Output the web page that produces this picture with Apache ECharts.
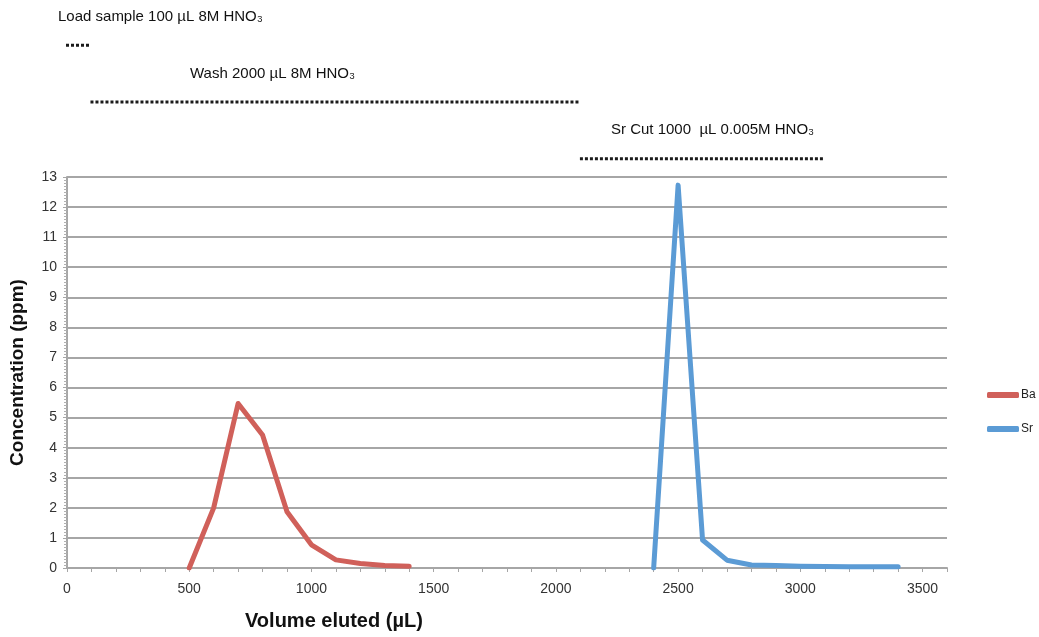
<!DOCTYPE html>
<html>
<head>
<meta charset="utf-8">
<script src="https://cdn.jsdelivr.net/npm/echarts@6/dist/echarts.min.js"></script>
<style>html,body{margin:0;padding:0;background:#fff;}#c{width:1039px;height:637px;}</style>
</head>
<body>
<div id="c"></div>
<script>
// Data
const volumes = [500, 600, 700, 800, 900, 1000, 1100, 1200, 1300, 1400];
const baValues = [0, 2.0, 5.47, 4.42, 1.87, 0.77, 0.27, 0.15, 0.08, 0.06];
const srVolumes = [2400, 2500, 2600, 2700, 2800, 2900, 3000, 3100, 3200, 3300, 3400];
const srValues = [0, 12.73, 0.93, 0.26, 0.1, 0.08, 0.06, 0.05, 0.04, 0.04, 0.04];
const stepNames = ['Load sample 100 µL 8M HNO₃', 'Wash 2000 µL 8M HNO₃', 'Sr Cut 1000  µL 0.005M HNO₃'];
const stepStart = [0, 100, 2100];
const stepEnd = [100, 2100, 3100];
const yTicks = [0, 13, 1];
const xTicks = [0, 3600, 500];

const FONT = '"Liberation Sans", Arial, sans-serif';
const chart = echarts.init(document.getElementById('c'), null, {renderer: 'canvas'});

const stepSeries = stepNames.map((n, i) => ({
  type: 'line', xAxisIndex: 1, yAxisIndex: 1, symbol: 'none', silent: true,
  data: [[stepStart[i], i], [stepEnd[i], i]],
  lineStyle: {color: '#1a1a1a', width: 3, type: [3, 2]}
}));

chart.setOption({
  animation: false,
  backgroundColor: '#fff',
  textStyle: {fontFamily: FONT},
  grid: [
    {left: 66, right: 92, top: 177, bottom: 69},
    {left: 66, right: 92, top: 17, height: 170}
  ],
  legend: {
    orient: 'vertical', left: 982, top: 384, itemGap: 22,
    itemWidth: 32, itemHeight: 6, icon: 'roundRect',
    textStyle: {fontSize: 12, color: '#222', fontFamily: '"Liberation Sans Narrow", "Liberation Sans", sans-serif', padding: [0, 0, 0, -3]},
    data: ['Ba', 'Sr']
  },
  xAxis: [{
    type: 'value', gridIndex: 0, min: xTicks[0], max: xTicks[1], interval: xTicks[2],
    axisLine: {show: true, lineStyle: {color: '#a6a6a6', width: 2}},
    axisTick: {show: true, length: 4, lineStyle: {color: '#a6a6a6'}},
    minorTick: {show: true, splitNumber: 5, length: 4, lineStyle: {color: '#a6a6a6'}},
    splitLine: {show: false},
    axisLabel: {fontSize: 14, color: '#333', margin: 14, showMaxLabel: false, formatter: v => String(v)},
  }, {
    type: 'value', gridIndex: 1, min: xTicks[0], max: xTicks[1], show: false
  }],
  yAxis: [{
    type: 'value', gridIndex: 0, min: yTicks[0], max: yTicks[1], interval: yTicks[2],
    name: 'Concentration (ppm)', nameLocation: 'middle', nameGap: 40,
    nameTextStyle: {fontSize: 19, fontWeight: 'bold', color: '#111'},
    axisLine: {show: true, lineStyle: {color: '#a6a6a6', width: 2}},
    axisTick: {show: true, length: 4, lineStyle: {color: '#a6a6a6'}},
    minorTick: {show: true, splitNumber: 10, length: 3, lineStyle: {color: '#b0b0b0'}},
    splitLine: {show: true, lineStyle: {color: '#a6a6a6', width: 2}},
    axisLabel: {fontSize: 14, color: '#333', margin: 10}
  }, {
    type: 'category', gridIndex: 1, inverse: true, data: [0, 1, 2], show: false
  }],
  graphic: [
    {type: 'text', left: 58, top: 9, style: {text: stepNames[0], fontSize: 15, fill: '#111', fontFamily: FONT}},
    {type: 'text', left: 190, top: 66, style: {text: stepNames[1], fontSize: 15, fill: '#111', fontFamily: FONT}},
    {type: 'text', left: 611, top: 122, style: {text: stepNames[2], fontSize: 15, fill: '#111', fontFamily: FONT}},
    {type: 'text', left: 245, top: 611, style: {text: 'Volume eluted (µL)', fontSize: 20, fontWeight: 'bold', fill: '#111', fontFamily: FONT}}
  ],
  series: [
    {
      name: 'Ba', type: 'line', xAxisIndex: 0, yAxisIndex: 0, symbol: 'none',
      data: volumes.map((v, i) => [v, baValues[i]]),
      itemStyle: {color: '#d0605a'},
      lineStyle: {color: '#d0605a', width: 5, cap: 'round', join: 'round'}
    },
    {
      name: 'Sr', type: 'line', xAxisIndex: 0, yAxisIndex: 0, symbol: 'none',
      data: srVolumes.map((v, i) => [v, srValues[i]]),
      itemStyle: {color: '#5b9bd5'},
      lineStyle: {color: '#5b9bd5', width: 5, cap: 'round', join: 'round'}
    }
  ].concat(stepSeries)
});
</script>
</body>
</html>
